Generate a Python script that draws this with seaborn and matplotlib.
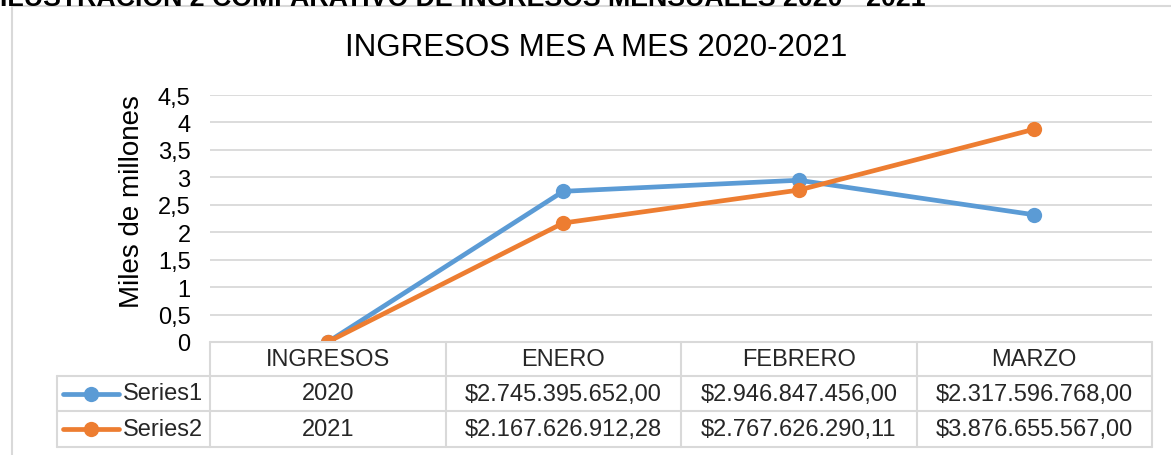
import numpy as np
import pandas as pd
import matplotlib
matplotlib.use('Agg')
import matplotlib.pyplot as plt
import seaborn as sns
from matplotlib.lines import Line2D
from matplotlib.patches import Rectangle
from matplotlib.transforms import blended_transform_factory

# Datos del grafico
categorias = ['INGRESOS', 'ENERO', 'FEBRERO', 'MARZO']
series = ['Series1', 'Series2']
ingresos_2020 = [2020, 2745395652.00, 2946847456.00, 2317596768.00]
ingresos_2021 = [2021, 2167626912.28, 2767626290.11, 3876655567.00]
cores = ['#5B9BD5', '#ED7D31']

W, H = 1171, 456
GRIS = '#d9d9d9'


def formatar_valor(valor):
    return f"${valor:,.2f}".replace(",", "v").replace(".", ",").replace("v", ".")


def etiquetas(valores):
    # la primera columna guarda el ano, no un valor en pesos
    return [str(int(valores[0]))] + [formatar_valor(v) for v in valores[1:]]


def fx(px):
    return px / W


def fy(py):
    return 1 - py / H


df = pd.DataFrame({
    'categoria': categorias * 2,
    'serie': [series[0]] * 4 + [series[1]] * 4,
    'valor': [v / 1e9 for v in ingresos_2020 + ingresos_2021],
})

sns.set_theme(style='white')
plt.rcParams['font.family'] = ['Liberation Sans', 'DejaVu Sans']

fig = plt.figure(figsize=(W / 100, H / 100), dpi=100)
fig.patch.set_facecolor('white')

ax = fig.add_axes([fx(210), fy(343), fx(1152) - fx(210), fy(96) - fy(343)])
sns.lineplot(data=df, x='categoria', y='valor', hue='serie', palette=cores,
             marker='o', markersize=11, markeredgewidth=0, linewidth=3.4,
             sort=False, legend=False, ax=ax)

ax.set_xlim(-0.5, 3.5)
ax.set_ylim(0, 4.5)
ticks = np.arange(0, 4.51, 0.5)
ax.set_yticks(ticks)
ax.set_yticklabels([f"{t:g}".replace('.', ',') for t in ticks], fontsize=17, color='black')
ax.set_xticks([])
ax.set_xlabel('')
ax.set_ylabel('')
ax.yaxis.grid(True, color=GRIS, linewidth=1.3)
ax.set_axisbelow(True)
ax.tick_params(axis='y', length=0, pad=14)
for s in ax.spines.values():
    s.set_visible(False)

fig.text(fx(132), fy(202), 'Miles de millones', rotation=90, ha='center', va='center',
         fontsize=20, color='black')
fig.text(fx(596), fy(48), 'INGRESOS MES A MES 2020-2021', ha='center', va='center',
         fontsize=22.5, color='black')

# texto cortado arriba de la imagen
fig.text(fx(0), fy(6), 'ILUSTRACIÓN 2 COMPARATIVO DE INGRESOS MENSUALES 2020 - 2021',
         fontweight='bold', fontsize=19.3, color='black', va='baseline')

# marco del area del grafico
fig.add_artist(Rectangle((fx(12), -0.2), 1.2, fy(7) + 0.2, transform=fig.transFigure,
                         fill=False, edgecolor=GRIS, linewidth=1.5))

# tabla de datos
trans = blended_transform_factory(ax.transData, fig.transFigure)
filas = [343, 377, 412, 448]
for y in filas[1:]:
    fig.add_artist(Line2D([fx(57), fx(1152)], [fy(y), fy(y)], transform=fig.transFigure,
                          color=GRIS, linewidth=1.5))
fig.add_artist(Line2D([-0.5, 3.5], [fy(343), fy(343)], transform=trans, color=GRIS, linewidth=1.5))
for xb in np.arange(-0.5, 3.6, 1.0):
    fig.add_artist(Line2D([xb, xb], [fy(343), fy(448)], transform=trans, color=GRIS, linewidth=1.5))
fig.add_artist(Line2D([fx(57), fx(57)], [fy(377), fy(448)], transform=fig.transFigure,
                      color=GRIS, linewidth=1.5))

centros = [(a + b) / 2 for a, b in zip(filas[:-1], filas[1:])]
for i, cat in enumerate(categorias):
    fig.text(i, fy(centros[0]), cat, transform=trans, ha='center', va='center', fontsize=17)

for fila, serie, valores, cor in zip(centros[1:], series, [ingresos_2020, ingresos_2021], cores):
    for i, txt in enumerate(etiquetas(valores)):
        fig.text(i, fy(fila), txt, transform=trans, ha='center', va='center', fontsize=17)
    fig.add_artist(Line2D([fx(63), fx(119)], [fy(fila), fy(fila)], transform=fig.transFigure,
                          color=cor, linewidth=3.4))
    fig.add_artist(Line2D([fx(91)], [fy(fila)], transform=fig.transFigure, color=cor,
                          marker='o', markersize=11, markeredgewidth=0))
    fig.text(fx(123), fy(fila), serie, ha='left', va='center', fontsize=17)

plt.savefig('out.png', dpi=100, facecolor='white')
plt.close()
